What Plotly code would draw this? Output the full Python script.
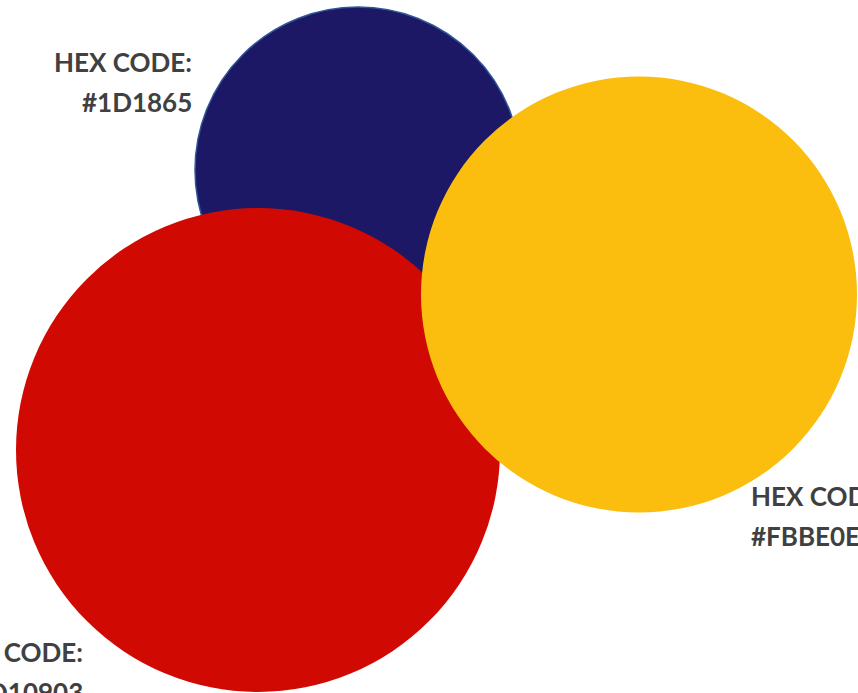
import plotly.graph_objects as go

# Data
hex_codes = ["#1D1865", "#D10903", "#FBBE0E"]
center_x = [358, 258, 639]
center_y = [170, 450, 294.5]
radius = [163, 242, 218]
label_x = [194, 85, 749]
label_y = [62, 652, 496]
label_align = ["right", "right", "left"]

W, H = 858, 693
fig = go.Figure()
fig.add_trace(go.Scatter(x=[0, W], y=[0, H], mode="markers", marker=dict(opacity=0), hoverinfo="skip", showlegend=False))

for i, c in enumerate(hex_codes):
    fig.add_shape(type="circle", xref="x", yref="y",
                  x0=center_x[i] - radius[i], x1=center_x[i] + radius[i],
                  y0=center_y[i] - radius[i], y1=center_y[i] + radius[i],
                  fillcolor=c,
                  line=dict(color="#2F5597" if i == 0 else c, width=1.5 if i == 0 else 0),
                  layer="above")
    for j, txt in enumerate(["HEX CODE:", c]):
        fig.add_annotation(x=label_x[i], y=label_y[i] + j * 40, xref="x", yref="y",
                           text="<b>" + txt + "</b>", showarrow=False,
                           xanchor=label_align[i], yanchor="middle", align=label_align[i],
                           font=dict(family="Lato", size=26, color="#404040"))

fig.update_layout(width=W, height=H, margin=dict(l=0, r=0, t=0, b=0),
                  plot_bgcolor="white", paper_bgcolor="white",
                  xaxis=dict(range=[0, W], visible=False, fixedrange=True),
                  yaxis=dict(range=[H, 0], visible=False, fixedrange=True))
fig.write_html("out.html", config={"displayModeBar": False},
               post_script="document.body.style.margin='0';document.body.style.overflow='hidden';")
